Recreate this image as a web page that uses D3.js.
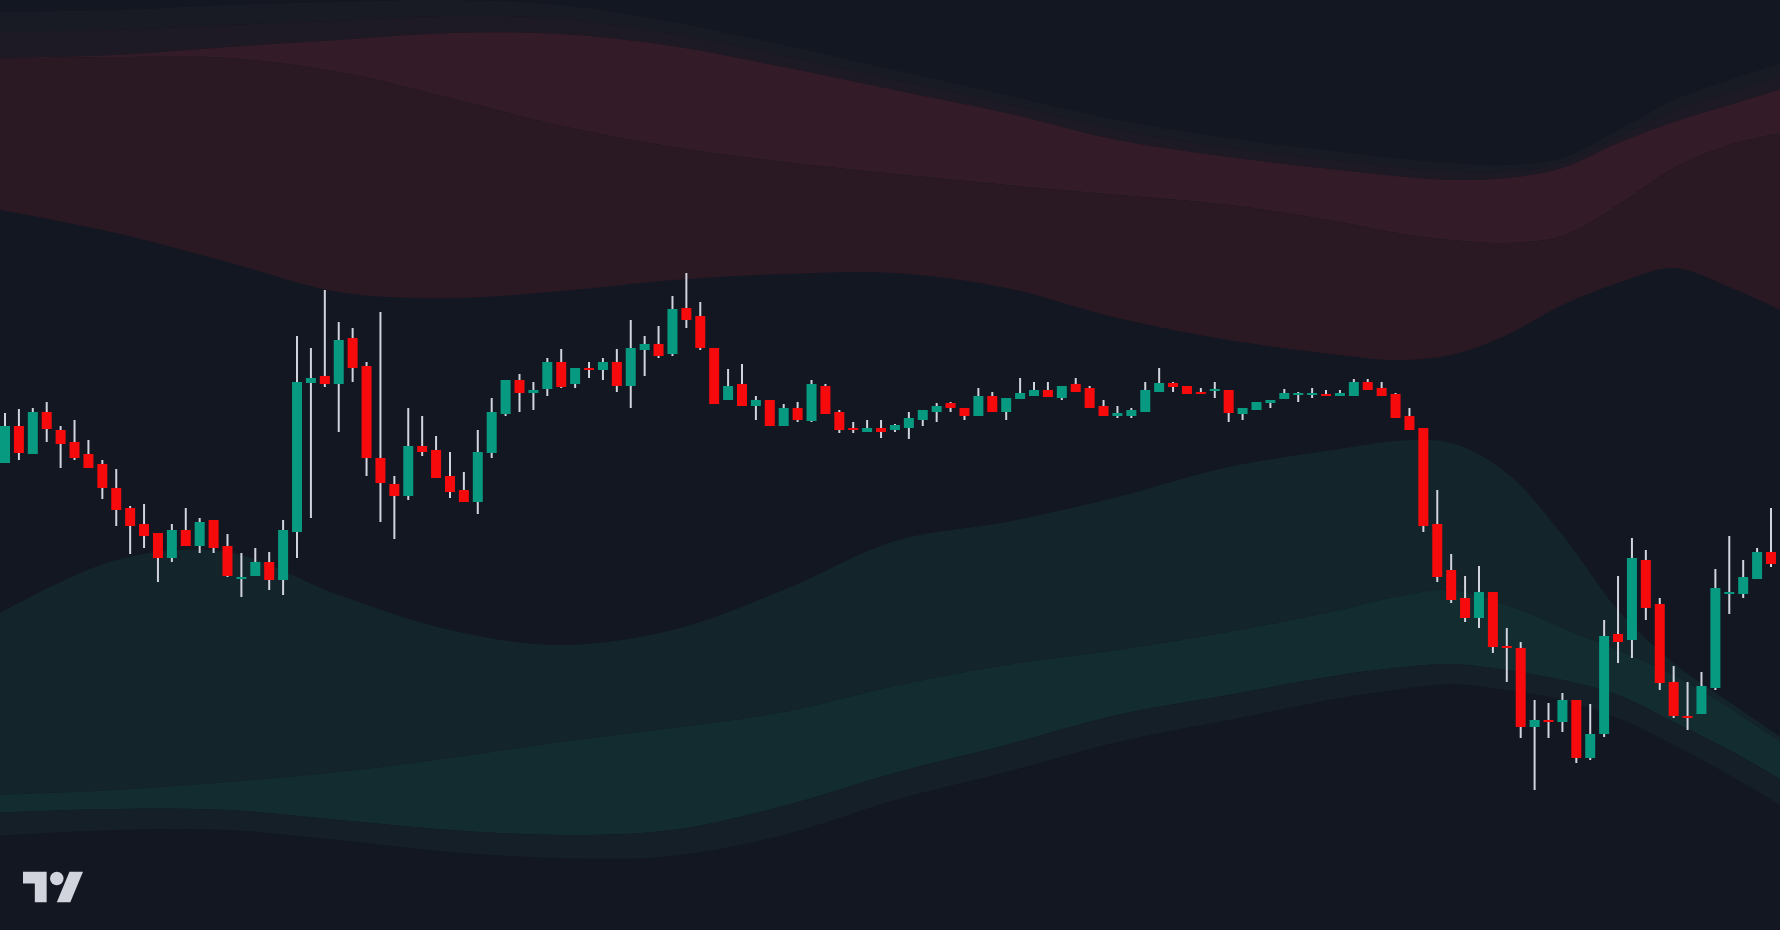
<!DOCTYPE html>
<html>
<head>
<meta charset="utf-8">
<script src="https://cdn.jsdelivr.net/npm/d3@7"></script>
<style>
  html, body { margin: 0; padding: 0; background: #131722; overflow: hidden; }
</style>
</head>
<body>
<script>
// OHLC, one entry per candle (price units)
const open  = [537,574,546,588,570,558,546,536,512,492,476,467,442,470,454,480,454,421,424,438,
               420,468,617,624,616,662,634,542,516,504,554,550,524,510,498,547,586,620,607,611,
               638,616,632,630,638,614,650,656,646,692,684,652,600,616,594,600,574,592,579,614,
               588,572,568,572,570,572,580,588,597,592,584,604,588,601,604,610,602,616,612,594,
               584,584,588,608,617,614,608,609,610,586,590,597,601,605,605,606,604,604,618,612,
               606,584,572,476,430,402,382,408,354,352,273,280,278,300,242,266,366,360,440,396,
               318,284,286,312,406,406,421,448];
const high  = [587,591,592,598,574,580,560,540,531,494,496,467,476,492,482,480,466,447,452,448,
               480,664,652,710,678,672,638,688,524,592,584,564,548,528,570,602,620,626,618,642,
               651,632,638,642,651,680,664,674,704,727,698,652,631,636,604,600,596,598,620,616,
               590,578,580,580,576,588,590,597,598,592,612,608,602,622,618,618,614,622,614,600,
               594,592,618,632,618,614,612,618,610,592,598,600,611,608,612,610,610,621,621,618,
               607,592,572,510,446,424,434,408,372,358,300,297,307,300,296,380,424,462,450,402,
               334,318,328,431,464,440,452,492];
const low   = [537,540,546,558,532,540,532,501,474,446,452,418,438,454,447,447,423,403,424,410,
               405,442,482,613,568,618,524,478,461,500,544,522,502,498,486,542,584,588,590,604,
               612,612,622,620,608,592,624,642,644,672,650,596,600,594,580,574,574,578,578,586,
               567,567,568,562,568,561,574,578,588,580,584,588,580,601,604,603,600,608,592,584,
               582,582,588,608,608,606,606,602,578,580,590,592,601,598,602,604,604,604,610,604,
               582,570,468,418,397,378,372,347,318,262,210,262,268,237,240,263,337,342,380,310,
               282,270,286,310,386,402,421,433];
const close = [574,547,588,571,556,542,532,512,490,474,464,442,470,454,478,452,424,423,438,420,
               470,618,622,616,660,632,542,517,504,554,548,522,508,498,548,588,620,607,610,638,
               613,632,631,638,614,652,656,644,691,680,652,596,614,594,600,574,592,580,616,586,
               570,570,572,568,575,582,590,594,592,584,604,588,602,607,610,603,614,608,592,584,
               587,590,610,617,613,606,606,611,587,592,598,600,607,607,607,604,607,618,610,604,
               582,570,474,423,400,382,408,353,352,273,280,278,300,242,266,364,358,442,392,317,
               284,282,314,412,408,423,448,436];

// envelope lines, sampled at these candle positions (price units)
const bandIdx = [-1, 8, 16, 24, 32, 40, 48, 56, 64, 72, 80, 88, 96, 100, 104, 108, 112, 116, 120, 124, 128];
const upperOuter = [988,990,995,998,1000,995,978,955,930,905,880,862,848,842,837,835,842,870,900,920,938];
const upperMid   = [968,970,975,979,984,981,966,944,920,896,870,852,839,833,828,828,837,863,889,907,925];
const upper2     = [942,945,953,960,967,966,954,933,910,887,860,843,830,824,820,822,832,857,878,895,912];
const upper1     = [941,943,942,928,902,874,853,838,826,815,805,795,778,767,760,757,764,795,832,855,868];
const upperInner = [792,767,738,708,702,709,720,726,727,712,682,660,645,640,645,665,695,717,732,713,688];
const lowerInner = [382,440,448,405,370,355,370,410,459,478,503,533,551,559,557,527,465,390,337,298,260];
const lower1     = [205,210,218,228,242,258,272,288,314,335,350,368,390,403,410,395,372,350,325,292,255];
const lower2     = [187,191,190,180,170,165,170,194,227,255,285,305,325,332,336,330,320,305,278,250,218];
const lowerOuter = [164,170,170,160,148,142,144,165,200,228,258,280,302,310,316,310,300,282,255,225,192];

const w = 1780;
const h = 930;

const xScale = d3.scaleLinear()
    .domain([0, open.length - 1])
    .range([5, 1771]);

const yScale = d3.scaleLinear()
    .domain([1000, 70])
    .range([0, h]);

const svg = d3.select("body")
    .append("svg")
    .attr("width", w)
    .attr("height", h)

svg.append("rect")
    .attr("width", w)
    .attr("height", h)
    .attr("fill", "#131722")

// filled layers between neighbouring envelope lines
const layers = [
    { top: upperOuter, bottom: upperMid,   fill: "#181a24" },
    { top: upperMid,   bottom: upper2,     fill: "#1e1a25" },
    { top: upper2,     bottom: upper1,     fill: "#331b27" },
    { top: upper1,     bottom: upperInner, fill: "#2a1923" },
    { top: lowerInner, bottom: lower1,     fill: "#13242a" },
    { top: lower1,     bottom: lower2,     fill: "#132c2f" },
    { top: lower2,     bottom: lowerOuter, fill: "#141f27" }
];

const area = d3.area()
    .x((d, i) => xScale(bandIdx[i]))
    .curve(d3.curveCatmullRom.alpha(0.5));

layers.forEach(layer => {
    svg.append("path")
        .datum(layer.top)
        .attr("fill", layer.fill)
        .attr("d", area
            .y1(d => yScale(d))
            .y0((d, i) => yScale(layer.bottom[i])))
})

const candles = open.map((o, i) => ({ i: i, o: o, h: high[i], l: low[i], c: close[i] }));
const up = "#089981";
const down = "#f70a0c";
const bodyW = 10;

svg.append("g")
    .selectAll("line")
    .data(candles)
    .enter()
    .append("line")
        .attr("x1", d => xScale(d.i))
        .attr("x2", d => xScale(d.i))
        .attr("y1", d => yScale(d.h))
        .attr("y2", d => yScale(d.l))
        .attr("stroke", "#d1d4dc")
        .attr("stroke-width", 2)

svg.append("g")
    .selectAll("rect")
    .data(candles)
    .enter()
    .append("rect")
        .attr("x", d => xScale(d.i) - bodyW / 2)
        .attr("y", d => yScale(Math.max(d.o, d.c)))
        .attr("width", bodyW)
        .attr("height", d => Math.max(2, Math.abs(yScale(d.o) - yScale(d.c))))
        .attr("fill", d => d.c >= d.o ? up : down)

// TradingView mark, bottom left
const logo = svg.append("g")
    .attr("transform", "translate(23,865) scale(1.69)")
    .attr("fill", "#d1d4dc")

logo.append("path")
    .attr("d", "M14 22H7V11H0V4h14v18zM28 22h-8l7.5-18h8L28 22z")
logo.append("circle")
    .attr("cx", 20)
    .attr("cy", 8)
    .attr("r", 4)
</script>
</body>
</html>
